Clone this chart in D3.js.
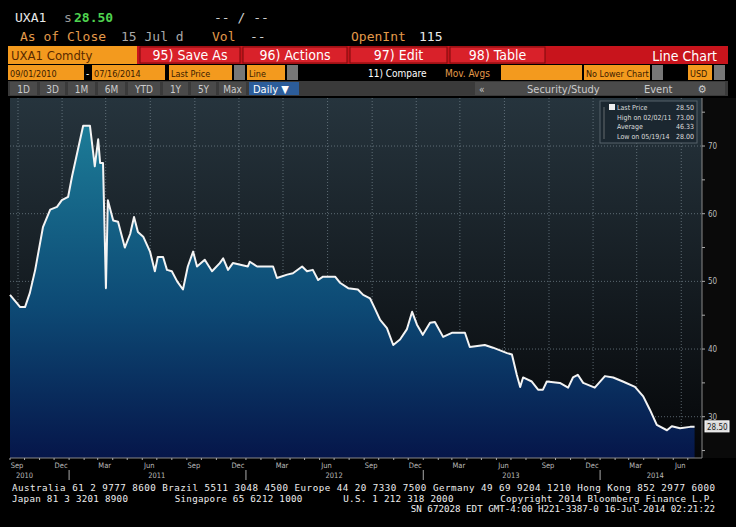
<!DOCTYPE html>
<html>
<head>
<meta charset="UTF-8">
<script src="https://cdn.jsdelivr.net/npm/d3@7"></script>
<style>
  body { margin: 0; background: #000; }
  text { font-family: "DejaVu Sans Condensed", "DejaVu Sans", sans-serif; }
  .mono { font-family: "DejaVu Sans Mono", monospace; }
</style>
</head>
<body>
<svg id="chart" width="736" height="527"></svg>
<script>
// price history
var dates = ["2010-09-01","2010-09-22","2010-10-02","2010-10-12","2010-10-23","2010-11-08","2010-11-23","2010-12-07","2010-12-17","2010-12-30",
  "2011-01-07","2011-01-19","2011-01-30","2011-02-13","2011-02-23","2011-03-02","2011-03-06","2011-03-12","2011-03-18","2011-03-22",
  "2011-04-02","2011-04-12","2011-04-26","2011-05-07","2011-05-15","2011-05-23","2011-06-03","2011-06-17","2011-06-27","2011-07-03",
  "2011-07-14","2011-07-22","2011-08-01","2011-08-12","2011-08-24","2011-09-03","2011-09-14","2011-09-22","2011-10-08","2011-10-23",
  "2011-11-08","2011-11-15","2011-11-25","2011-12-05","2012-01-05","2012-01-09","2012-01-24","2012-02-26","2012-03-05","2012-03-26",
  "2012-04-07","2012-04-26","2012-05-06","2012-05-18","2012-05-29","2012-06-08","2012-07-03","2012-07-13","2012-07-30","2012-08-19",
  "2012-08-30","2012-09-13","2012-09-23","2012-10-04","2012-10-18","2012-10-31","2012-11-14","2012-11-28","2012-12-09","2012-12-19",
  "2012-12-31","2013-01-15","2013-01-25","2013-02-11","2013-03-01","2013-03-28","2013-04-07","2013-05-08","2013-05-25","2013-06-23",
  "2013-07-03","2013-07-13","2013-07-20","2013-07-26","2013-08-13","2013-08-26","2013-09-05","2013-09-13","2013-10-10","2013-10-27",
  "2013-11-06","2013-11-16","2013-11-27","2013-12-21","2014-01-11","2014-01-28","2014-02-17","2014-03-14","2014-03-31","2014-04-14",
  "2014-04-28","2014-05-19","2014-05-29","2014-06-15","2014-07-06","2014-07-15"];
var prices = [48, 46.2, 46.2, 48.3, 51.7, 58, 60.6, 61, 62, 62.5,
  65.5, 69.4, 73, 73, 67, 71, 67.5, 67.5, 49, 62,
  59, 58.8, 55, 57, 59.5, 57.3, 56.6, 54.4, 51.5, 53.6,
  53.6, 51.7, 51.5, 50, 48.8, 52.2, 54.4, 52.2, 53.2, 51.5,
  52.7, 53.4, 51.7, 52.7, 52.2, 52.9, 52.2, 52.2, 50.5, 51,
  51.2, 52.2, 51.5, 51.7, 50.2, 50.7, 50.7, 49.8, 49, 48.8,
  48, 47.5, 46, 44.3, 43.1, 40.6, 41.4, 42.9, 45.5, 43.6,
  42.1, 43.9, 44, 41.8, 42.4, 42.4, 40.3, 40.6, 40.2, 39.4,
  39.2, 36.2, 34.4, 35.8, 35.2, 34, 34, 35.2, 35, 34.3,
  35.8, 36.2, 35, 34.3, 36, 35.8, 35.2, 34.4, 33, 31,
  28.8, 28, 28.6, 28.3, 28.5, 28.5];
var yTicks = [30, 40, 50, 60, 70];
var legendRows = [["Last Price", "28.50"], ["High on 02/02/11", "73.00"], ["Average", "46.33"], ["Low on 05/19/14", "28.00"]];
var footer = ["Australia 61 2 9777 8600 Brazil 5511 3048 4500 Europe 44 20 7330 7500 Germany 49 69 9204 1210 Hong Kong 852 2977 6000",
  "Japan 81 3 3201 8900        Singapore 65 6212 1000       U.S. 1 212 318 2000        Copyright 2014 Bloomberg Finance L.P.",
  "SN 672028 EDT  GMT-4:00 H221-3387-0 16-Jul-2014 02:21:22"];

var parse = d3.timeParse("%Y-%m-%d");
var data = dates.map(function (d, i) { return {date: parse(d), v: prices[i]}; });

var svg = d3.select("#chart");
var plotL = 10, plotR = 702, plotT = 98, plotB = 458;

var x = d3.scaleTime().domain([parse("2010-09-01"), parse("2014-07-20")]).range([plotL, 697]);
var y = d3.scaleLinear().domain([23.9, 76.8]).range([plotB, 100]);

var defs = svg.append("defs");
var bg = defs.append("linearGradient").attr("id", "bg").attr("x1", 0).attr("x2", 0).attr("y1", 0).attr("y2", 1);
bg.append("stop").attr("offset", "0%").attr("stop-color", "#26343d");
bg.append("stop").attr("offset", "100%").attr("stop-color", "#050608");
var fill = defs.append("linearGradient").attr("id", "fill").attr("gradientUnits", "userSpaceOnUse")
  .attr("x1", 0).attr("x2", 0).attr("y1", 120).attr("y2", plotB);
fill.append("stop").attr("offset", "0%").attr("stop-color", "#1d7d98");
fill.append("stop").attr("offset", "55%").attr("stop-color", "#0d4a75");
fill.append("stop").attr("offset", "100%").attr("stop-color", "#06164a");

// ---- header ----
var hs = 13;
svg.append("text").attr("class", "mono").attr("x", 15).attr("y", 22).attr("fill", "#e8e8e8").attr("font-size", hs).text("UXA1");
svg.append("text").attr("class", "mono").attr("x", 64).attr("y", 22).attr("fill", "#9a9a9a").attr("font-size", hs).text("s");
svg.append("text").attr("class", "mono").attr("x", 74).attr("y", 22).attr("fill", "#4fd34f").attr("font-size", hs).attr("font-weight", "bold").text("28.50");
svg.append("text").attr("class", "mono").attr("x", 214).attr("y", 22).attr("fill", "#cfcfcf").attr("font-size", hs).text("-- / --");
svg.append("text").attr("class", "mono").attr("x", 20).attr("y", 41).attr("fill", "#e39a4a").attr("font-size", hs).text("As of Close");
svg.append("text").attr("class", "mono").attr("x", 121).attr("y", 41).attr("fill", "#a8a8a8").attr("font-size", hs).text("15 Jul  d");
svg.append("text").attr("class", "mono").attr("x", 212).attr("y", 41).attr("fill", "#e39a4a").attr("font-size", hs).text("Vol");
svg.append("text").attr("class", "mono").attr("x", 250).attr("y", 41).attr("fill", "#cfcfcf").attr("font-size", hs).text("--");
svg.append("text").attr("class", "mono").attr("x", 351).attr("y", 41).attr("fill", "#e39a4a").attr("font-size", hs).text("OpenInt");
svg.append("text").attr("class", "mono").attr("x", 419).attr("y", 41).attr("fill", "#e8e8e8").attr("font-size", hs).text("115");

// red command bar
svg.append("rect").attr("x", 8).attr("y", 46).attr("width", 720).attr("height", 18).attr("fill", "#c8141c");
svg.append("rect").attr("x", 8).attr("y", 46).attr("width", 129).attr("height", 18).attr("fill", "#f39a1e");
svg.append("text").attr("x", 11).attr("y", 60).attr("font-size", 13).attr("fill", "#5a2a00").text("UXA1 Comdty");
[[140, "95) Save As", 240], [243, "96) Actions", 347], [350, "97) Edit", 447], [450, "98) Table", 545]].forEach(function (b) {
  svg.append("rect").attr("x", b[0]).attr("y", 47).attr("width", b[2] - b[0]).attr("height", 16).attr("fill", "#d9212a").attr("stroke", "#7a0a0a");
  svg.append("text").attr("x", (b[0] + b[2]) / 2).attr("y", 60).attr("text-anchor", "middle").attr("font-size", 14).attr("fill", "#fff").text(b[1]);
});
svg.append("text").attr("x", 717).attr("y", 61).attr("text-anchor", "end").attr("font-size", 14).attr("fill", "#fff").text("Line Chart");

// orange option row
[[8, 84, "09/01/2010"], [92, 165, "07/16/2014"], [169, 232, "Last Price"], [247, 285, "Line"], [501, 582, ""], [584, 650, "No Lower Chart"], [688, 712, "USD"]].forEach(function (f) {
  svg.append("rect").attr("x", f[0]).attr("y", 65).attr("width", f[1] - f[0]).attr("height", 15).attr("fill", "#f39a1e");
  svg.append("text").attr("x", f[0] + 2).attr("y", 77).attr("font-size", 9).attr("fill", "#3a1a00").text(f[2]);
});
[[234, 245], [287, 298], [652, 663], [714, 725]].forEach(function (f) {
  svg.append("rect").attr("x", f[0]).attr("y", 65).attr("width", f[1] - f[0]).attr("height", 15).attr("fill", "#777");
});
svg.append("text").attr("x", 86).attr("y", 77).attr("font-size", 10).attr("fill", "#fff").text("-");
svg.append("text").attr("x", 368).attr("y", 77).attr("font-size", 10).attr("fill", "#fff").text("11) Compare");
svg.append("text").attr("x", 445).attr("y", 77).attr("font-size", 10).attr("fill", "#e39a4a").text("Mov. Avgs");

// period bar
svg.append("rect").attr("x", 8).attr("y", 81).attr("width", 720).attr("height", 15).attr("fill", "#3a3a3a");
["1D", "3D", "1M", "6M", "YTD", "1Y", "5Y", "Max"].forEach(function (p, i) {
  var xs = [10, 40, 68, 98, 128, 163, 191, 219][i], w = [27, 25, 27, 27, 32, 25, 25, 27][i];
  svg.append("rect").attr("x", xs).attr("y", 82).attr("width", w).attr("height", 13).attr("fill", "#4a4a4a");
  svg.append("text").attr("x", xs + w / 2).attr("y", 93).attr("text-anchor", "middle").attr("font-size", 10).attr("fill", "#ccc").text(p);
});
svg.append("rect").attr("x", 249).attr("y", 82).attr("width", 50).attr("height", 13).attr("fill", "#2c5d9a");
svg.append("text").attr("x", 253).attr("y", 93).attr("font-size", 11).attr("fill", "#fff").text("Daily ▼");
svg.append("rect").attr("x", 475).attr("y", 82).attr("width", 250).attr("height", 13).attr("fill", "#4a4a4a");
svg.append("text").attr("x", 479).attr("y", 93).attr("font-size", 10).attr("fill", "#ccc").text("«");
svg.append("text").attr("x", 527).attr("y", 93).attr("font-size", 11).attr("fill", "#ccc").text("Security/Study");
svg.append("text").attr("x", 644).attr("y", 93).attr("font-size", 11).attr("fill", "#ccc").text("Event");
svg.append("text").attr("x", 698).attr("y", 93).attr("font-size", 11).attr("fill", "#ccc").text("⚙");

// ---- plot ----
svg.append("rect").attr("x", plotL).attr("y", plotT).attr("width", plotR - plotL).attr("height", plotB - plotT).attr("fill", "url(#bg)");
svg.append("rect").attr("x", plotR).attr("y", plotT).attr("width", 34).attr("height", plotB - plotT).attr("fill", "#0a0a0a");

var months = d3.timeMonth.range(parse("2010-09-01"), parse("2014-07-20"));
var quarters = months.filter(function (d) { return d.getMonth() % 3 === 2; });
var grid = svg.append("g").attr("stroke", "#7a8a94").attr("stroke-dasharray", "1,2").attr("stroke-width", 0.7);
quarters.forEach(function (d) {
  grid.append("line").attr("x1", x(d) + 8).attr("x2", x(d) + 8).attr("y1", plotT).attr("y2", plotB);
});
yTicks.forEach(function (t) {
  grid.append("line").attr("x1", plotL).attr("x2", plotR).attr("y1", y(t)).attr("y2", y(t));
});

var area = d3.area().x(function (d) { return x(d.date); }).y0(plotB).y1(function (d) { return y(d.v); });
var line = d3.line().x(function (d) { return x(d.date); }).y(function (d) { return y(d.v); });
svg.append("path").datum(data).attr("d", area).attr("fill", "url(#fill)");
svg.append("path").datum(data).attr("d", line).attr("fill", "none").attr("stroke", "#f4f4f4").attr("stroke-width", 2).attr("stroke-linejoin", "round");

// right axis
var ra = svg.append("g").attr("transform", "translate(" + plotR + ",0)");
ra.append("line").attr("y1", plotT).attr("y2", plotB).attr("stroke", "#888");
d3.range(25, 76, 5).forEach(function (t) {
  ra.append("line").attr("x1", 0).attr("x2", 3).attr("y1", y(t)).attr("y2", y(t)).attr("stroke", "#aaa");
});
yTicks.forEach(function (t) {
  ra.append("text").attr("x", 6).attr("y", y(t) + 3).attr("font-size", 8).attr("fill", "#bbb").text(t);
});
ra.append("rect").attr("x", 3).attr("y", y(28.5) - 6).attr("width", 24).attr("height", 11).attr("fill", "#ddd").attr("stroke", "#fff");
ra.append("text").attr("x", 5).attr("y", y(28.5) + 3).attr("font-size", 8).attr("fill", "#222").text("28.50");

// bottom axis
var ba = svg.append("g");
ba.append("line").attr("x1", plotL).attr("x2", plotR).attr("y1", plotB).attr("y2", plotB).attr("stroke", "#888");
months.forEach(function (d) {
  ba.append("line").attr("x1", x(d)).attr("x2", x(d)).attr("y1", plotB).attr("y2", plotB + 2).attr("stroke", "#aaa");
});
quarters.forEach(function (d) {
  ba.append("text").attr("x", x(d) + 7).attr("y", plotB + 10).attr("text-anchor", "middle").attr("font-size", 7.5).attr("fill", "#bbb").text(d3.timeFormat("%b")(d));
});
[2011, 2012, 2013, 2014].forEach(function (yr) {
  var xx = x(new Date(yr, 0, 1));
  ba.append("line").attr("x1", xx).attr("x2", xx).attr("y1", plotB + 12).attr("y2", plotB + 22).attr("stroke", "#aaa");
});
[[2010, "2010-10-01"], [2011, "2011-07-01"], [2012, "2012-07-01"], [2013, "2013-07-01"], [2014, "2014-04-25"]].forEach(function (p) {
  ba.append("text").attr("x", x(parse(p[1]))).attr("y", plotB + 20).attr("text-anchor", "middle").attr("font-size", 7.5).attr("fill", "#bbb").text(p[0]);
});

// legend
var lg = svg.append("g").attr("transform", "translate(600,101)");
lg.append("rect").attr("width", 97).attr("height", 42).attr("fill", "#1b2730").attr("stroke", "#56626a");
legendRows.forEach(function (r, i) {
  lg.append("text").attr("x", 17).attr("y", 9 + i * 9.5).attr("font-size", 7).attr("fill", "#ddd").text(r[0]);
  lg.append("text").attr("x", 94).attr("y", 9 + i * 9.5).attr("text-anchor", "end").attr("font-size", 7).attr("fill", "#ddd").text(r[1]);
});
lg.append("rect").attr("x", 9).attr("y", 3).attr("width", 6).attr("height", 6).attr("fill", "#eee");
lg.append("line").attr("x1", 4).attr("x2", 4).attr("y1", 6).attr("y2", 38).attr("stroke", "#999").attr("stroke-width", 0.6);

// footer
svg.append("text").attr("class", "mono").attr("x", 12).attr("y", 491).attr("font-size", 9.2).attr("fill", "#eee").attr("textLength", 703).text(footer[0]);
svg.append("text").attr("class", "mono").attr("x", 12).attr("y", 502).attr("font-size", 9.2).attr("fill", "#eee").attr("xml:space", "preserve").attr("textLength", 703).text(footer[1]);
svg.append("text").attr("class", "mono").attr("x", 715).attr("y", 512).attr("text-anchor", "end").attr("font-size", 9.2).attr("fill", "#eee").text(footer[2]);
</script>
</body>
</html>
